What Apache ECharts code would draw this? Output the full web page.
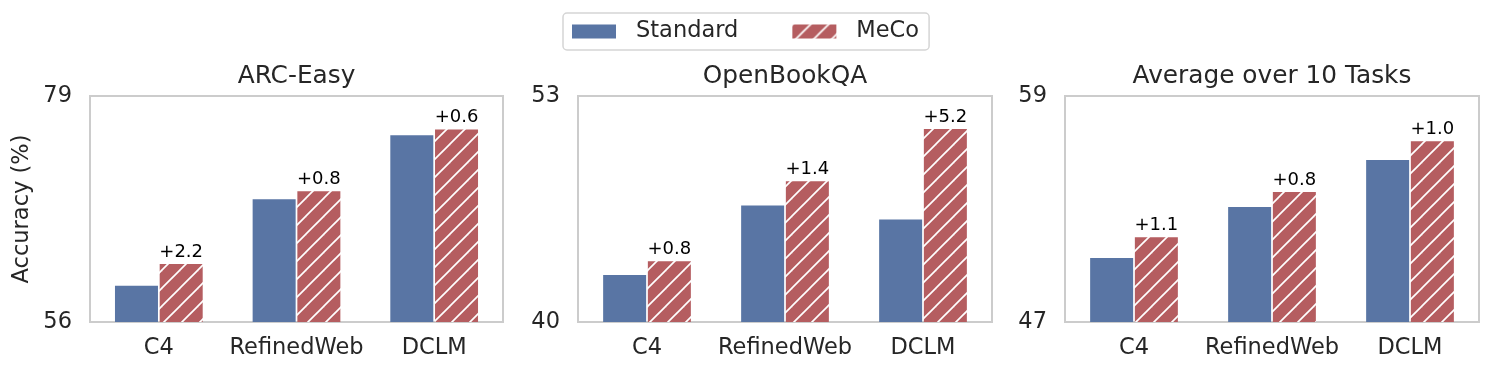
<!DOCTYPE html>
<html>
<head>
<meta charset="utf-8">
<script src="https://cdn.jsdelivr.net/npm/echarts@6/dist/echarts.min.js"></script>
<style>
  html, body { margin: 0; padding: 0; background: #fff; }
  #chart { width: 1492px; height: 374px; }
</style>
</head>
<body>
<div id="chart"></div>
<script>
// data
var categories = ['C4', 'RefinedWeb', 'DCLM'];
var panelTitles = ['ARC-Easy', 'OpenBookQA', 'Average over 10 Tasks'];

var arcStandard = [59.7, 68.5, 75.0];
var arcMeco = [61.9, 69.3, 75.6];
var arcGain = ['+2.2', '+0.8', '+0.6'];

var obqaStandard = [42.7, 46.7, 45.9];
var obqaMeco = [43.5, 48.1, 51.1];
var obqaGain = ['+0.8', '+1.4', '+5.2'];

var avgStandard = [50.4, 53.1, 55.6];
var avgMeco = [51.5, 53.9, 56.6];
var avgGain = ['+1.1', '+0.8', '+1.0'];

var yMin = [56, 40, 47];
var yMax = [79, 53, 59];

var FONT = 'DejaVu Sans';
var TXT = '#262626';
var BLUE = '#5975a4';
var RED = '#b55d60';

// hatch pattern '/' for MeCo
function makeHatch() {
  var s = 18;
  var c = document.createElement('canvas');
  c.width = s; c.height = s;
  var ctx = c.getContext('2d');
  ctx.fillStyle = RED;
  ctx.fillRect(0, 0, s, s);
  ctx.strokeStyle = '#ffffff';
  ctx.lineWidth = 1.7;
  [0, s, 2 * s].forEach(function (k) {
    ctx.beginPath();
    ctx.moveTo(k - s - 1, s + 1);
    ctx.lineTo(k + 1, -1);
    ctx.stroke();
  });
  return c;
}
var hatch = { image: makeHatch(), repeat: 'repeat' };

var standardSets = [arcStandard, obqaStandard, avgStandard];
var mecoSets = [arcMeco, obqaMeco, avgMeco];
var gainSets = [arcGain, obqaGain, avgGain];

var gridLeft = [90, 578, 1065];
var gridWidth = [413, 414, 414];

var grids = [], xAxes = [], yAxes = [], series = [], texts = [];
for (var i = 0; i < 3; i++) {
  grids.push({
    left: gridLeft[i], top: 96, width: gridWidth[i], height: 226,
    show: true, borderColor: '#cccccc', borderWidth: 2
  });
  xAxes.push({
    type: 'category', gridIndex: i, data: categories,
    axisLine: { show: false }, axisTick: { show: false },
    axisLabel: { interval: 0, hideOverlap: false, margin: 15, fontSize: 22.5, color: TXT, fontFamily: FONT }
  });
  yAxes.push({
    type: 'value', gridIndex: i, min: yMin[i], max: yMax[i],
    name: i === 0 ? 'Accuracy (%)' : '',
    nameLocation: 'middle', nameGap: 56,
    nameTextStyle: { fontSize: 22.5, color: TXT, fontFamily: FONT },
    axisLine: { show: false }, axisTick: { show: false }, splitLine: { show: false },
    axisLabel: {
      customValues: [yMin[i], yMax[i]],
      margin: 18, fontSize: 22.5, color: TXT, fontFamily: FONT
    }
  });
  series.push({
    name: 'Standard', type: 'bar', xAxisIndex: i, yAxisIndex: i,
    data: standardSets[i], barWidth: 43, barGap: '4%',
    itemStyle: { color: BLUE }
  });
  (function (gains) {
    series.push({
      name: 'MeCo', type: 'bar', xAxisIndex: i, yAxisIndex: i,
      data: mecoSets[i], barWidth: 43, barGap: '4%',
      itemStyle: { color: hatch },
      label: {
        show: true, position: 'top', distance: 3,
        fontSize: 18, color: '#000', fontFamily: FONT,
        formatter: function (p) { return gains[p.dataIndex]; }
      }
    });
  })(gainSets[i]);
  texts.push({
    type: 'text', x: gridLeft[i] + gridWidth[i] / 2, y: 77,
    style: {
      text: panelTitles[i], fill: TXT, font: '24.8px "DejaVu Sans"',
      textAlign: 'center', textVerticalAlign: 'middle'
    }
  });
}

var chart = echarts.init(document.getElementById('chart'), null, { renderer: 'canvas' });
chart.setOption({
  animation: false,
  backgroundColor: '#ffffff',
  textStyle: { fontFamily: FONT },
  legend: {
    data: ['Standard', 'MeCo'],
    left: 563, top: 13,
    icon: 'rect', itemWidth: 44, itemHeight: 14, itemGap: 54,
    padding: [7, 10, 7, 9],
    borderColor: '#d5d5d5', borderWidth: 1.5, borderRadius: 4,
    textStyle: { fontSize: 22.5, color: TXT, fontFamily: FONT, padding: [0, 0, 0, 15] }
  },
  grid: grids,
  xAxis: xAxes,
  yAxis: yAxes,
  series: series,
  graphic: texts
});
</script>
</body>
</html>
